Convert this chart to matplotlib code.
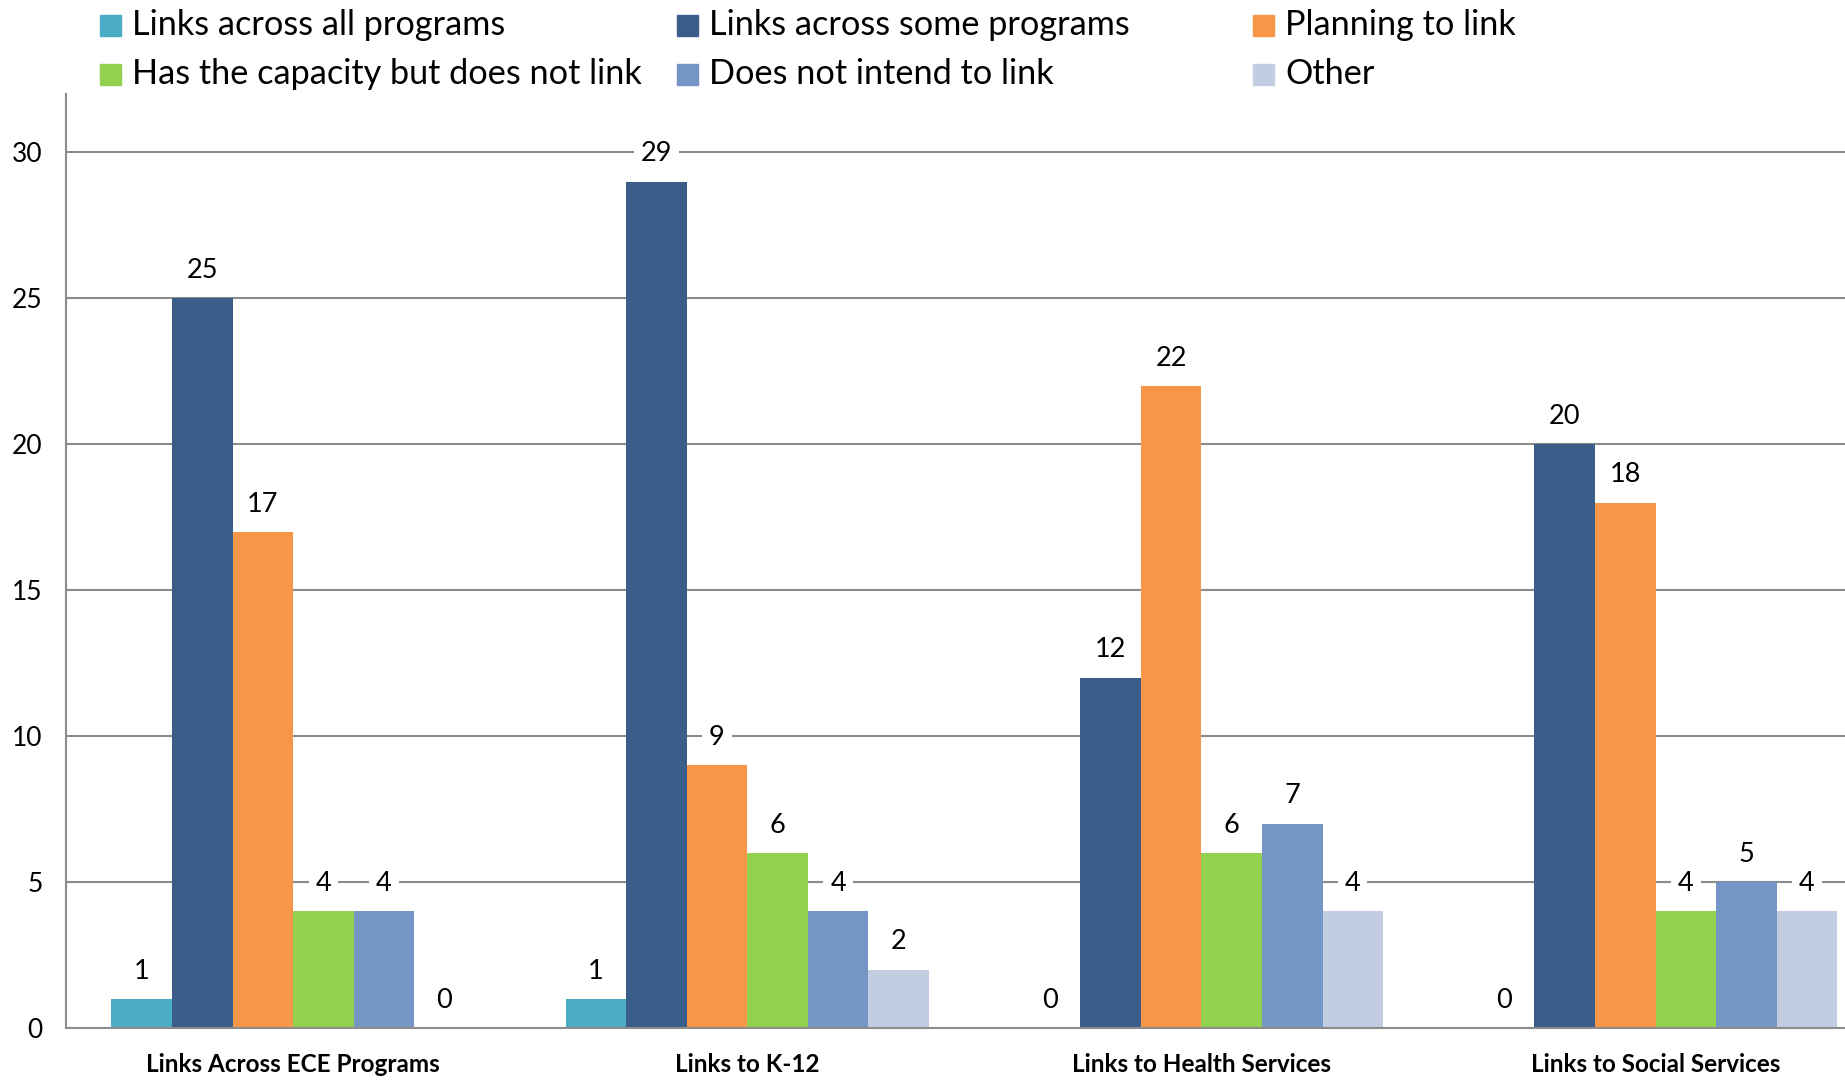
import matplotlib.pyplot as plt
from matplotlib.patches import Rectangle
import numpy as np

plt.rcParams['font.family'] = ['Lato', 'DejaVu Sans']

categories = ["Links Across ECE Programs", "Links to K-12",
              "Links to Health Services", "Links to Social Services"]
series_names = ["Links across all programs", "Links across some programs",
                "Planning to link", "Has the capacity but does not link",
                "Does not intend to link", "Other"]
values = [
    [1, 1, 0, 0],
    [25, 29, 12, 20],
    [17, 9, 22, 18],
    [4, 6, 6, 4],
    [4, 4, 7, 5],
    [0, 2, 4, 4],
]
colors = ["#4BACC6", "#3A5E8A", "#F79646", "#92D050", "#7496C6", "#C3CDE1"]

W, H = 1845, 1081
fig = plt.figure(figsize=(W / 100, H / 100), dpi=100)
ax = fig.add_axes([66 / W, (H - 1028) / H, 1 - 66 / W, (1028 - 94) / H])

x = np.arange(len(categories))
bw = 0.8 / len(series_names)
for i, (vals, col) in enumerate(zip(values, colors)):
    pos = x + (i - 2.5) * bw
    ax.bar(pos, vals, width=bw, color=col, zorder=2)
    for px, v in zip(pos, vals):
        ax.annotate(str(v), (px, v), xytext=(0, 11), textcoords='offset points',
                    ha='center', va='bottom', fontsize=19.5,
                    bbox=dict(boxstyle='square,pad=0.25', fc='white', ec='none'),
                    zorder=3)

ax.set_ylim(0, 32)
ax.set_xlim(-0.5, 3.417)
ax.set_yticks(range(0, 31, 5))
ax.yaxis.grid(True, color='#8C8C8C', linewidth=1.5, zorder=0)
ax.set_axisbelow(True)
ax.tick_params(axis='y', length=0, labelsize=19, pad=17)
ax.tick_params(axis='x', length=0, labelsize=17.5, pad=18)
ax.set_xticks(x)
ax.set_xticklabels(categories, fontweight='bold')
for s in ['top', 'right']:
    ax.spines[s].set_visible(False)
for s in ['left', 'bottom']:
    ax.spines[s].set_color('#8C8C8C')
    ax.spines[s].set_linewidth(1.5)

# legend laid out in a fixed 3x2 grid
col_x = [100, 677, 1253]
row_y = [25, 74]
for k, (name, col) in enumerate(zip(series_names, colors)):
    r, c = divmod(k, 3)
    sq = 21
    fig.add_artist(Rectangle((col_x[c] / W, (H - row_y[r] - sq / 2) / H), sq / W, sq / H,
                             transform=fig.transFigure, color=col))
    fig.text((col_x[c] + 32) / W, (H - row_y[r]) / H, name, fontsize=24.7,
             ha='left', va='center')

fig.savefig('out.png', dpi=100)
